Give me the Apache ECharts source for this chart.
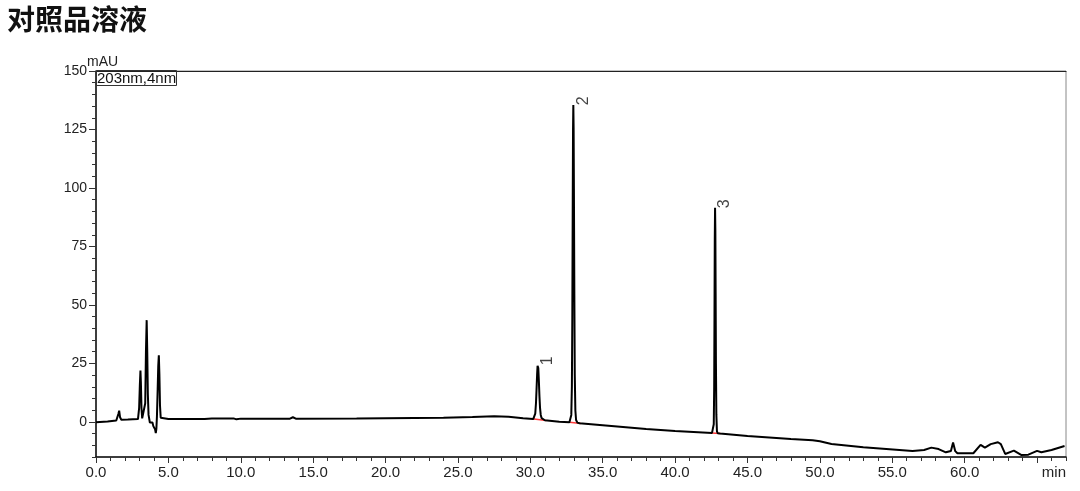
<!DOCTYPE html>
<html>
<head>
<meta charset="utf-8">
<script src="https://cdn.jsdelivr.net/npm/echarts@6/dist/echarts.min.js"></script>
<style>
html,body{margin:0;padding:0;background:#fff;}
#chart{width:1080px;height:491px;}
</style>
</head>
<body>
<div id="chart"></div>
<script>
// ---- data (time in min, absorbance in mAU) ----
const times = [
  0.0, 0.8, 1.4, 1.5, 1.55, 1.6, 1.66, 1.75, 2.2, 2.9, 2.98, 3.03, 3.07, 3.1, 3.14, 3.19, 3.25, 3.32,
  3.4, 3.45, 3.5, 3.54, 3.58, 3.63, 3.68, 3.72, 3.78, 3.84, 3.9, 3.96, 4.02, 4.08, 4.13, 4.17, 4.21,
  4.26, 4.3, 4.34, 4.38, 4.42, 4.47, 4.55, 5.0, 7.5, 8.0, 9.5, 9.7, 10.0, 13.4, 13.6, 13.8, 18.0,
  20.0, 24.0, 26.0, 27.5, 28.5, 29.5, 30.2,
  30.28, 30.34, 30.39, 30.43, 30.47, 30.5, 30.52, 30.55, 30.59, 30.63, 30.67, 30.72, 30.78, 30.86, 31.0,
  32.0, 32.7, 32.78, 32.83, 32.87, 32.9, 32.93, 32.95, 32.97, 32.99, 33.01, 33.04, 33.07, 33.11, 33.16, 33.25, 33.4,
  35.0, 38.0, 40.0, 42.55, 42.63, 42.67, 42.7, 42.72, 42.74, 42.76, 42.78, 42.8, 42.82, 42.85, 42.89, 42.95, 43.1,
  45.0, 48.0, 49.5, 50.0, 50.8, 53.0, 56.4, 57.2, 57.7, 58.2, 58.7, 59.05, 59.2, 59.35, 59.5, 60.6,
  61.1, 61.4, 61.8, 62.3, 62.5, 62.8, 63.4, 63.9, 64.4, 65.0, 65.3, 66.0, 66.9
];
const signal = [
  -0.1, 0.2, 0.6, 1.3, 3.5, 4.8, 2.0, 0.9, 1.0, 1.2, 6.0, 16.0, 22.0, 17.0, 6.0, 1.5, 0.8, 1.5,
  8.0, 30.0, 43.5, 30.0, 12.0, 3.0, 2.2, -0.3, 0.4, -0.8, -0.3, -1.8, -1.2, -3.2, -4.8, -3.0, 2.5,
  14.0, 24.0, 28.5, 20.0, 7.0, 1.8, 1.3, 1.2, 1.2, 1.5, 1.5, 1.1, 1.4, 1.4, 2.0, 1.4, 1.5,
  1.6, 1.8, 2.1, 2.4, 2.2, 1.6, 1.2,
  1.6, 3.5, 8.0, 14.0, 20.5, 24.0, 24.4, 23.0, 17.5, 11.0, 6.0, 3.0, 1.6, 1.0, 0.7,
  0.1, -0.1, 0.3, 3.0, 15.0, 45.0, 95.0, 125.0, 135.5, 126.0, 100.0, 55.0, 20.0, 5.0, 0.8, -0.3, -0.6,
  -1.4, -3.0, -3.9, -4.7, -4.4, -1.0, 15.0, 45.0, 78.0, 91.5, 82.0, 55.0, 25.0, 3.0, -4.0, -4.9, -5.0,
  -6.0, -7.3, -7.8, -8.3, -9.4, -10.8, -12.4, -12.0, -11.0, -11.6, -13.0, -12.4, -8.8, -12.5, -13.4, -13.4,
  -9.8, -11.0, -9.5, -8.7, -9.5, -13.7, -12.3, -14.1, -14.0, -12.4, -13.0, -12.0, -10.3
];
// integration baselines (red) under the peaks: start/end time and value
const baseStartT = [30.1, 32.7, 42.5];
const baseStartV = [1.3, -0.1, -4.7];
const baseEndT   = [31.1, 33.5, 43.15];
const baseEndV   = [0.6, -0.7, -5.0];
// peak labels
const peakTimes   = [30.52, 32.97, 42.76];
const peakHeights = [24.4, 135.5, 91.5];
const peakNames   = ['1', '2', '3'];
// axis ticks
const xLabelValues = [0, 5, 10, 15, 20, 25, 30, 35, 40, 45, 50, 55, 60];
const xMajorTicks  = [0, 5, 10, 15, 20, 25, 30, 35, 40, 45, 50, 55, 60, 65];
const yLabelValues = [0, 25, 50, 75, 100, 125, 150];

// ---- build ----
const lineData = times.map((t, i) => [t, signal[i]]);
const baseData = [];
baseStartT.forEach((t, i) => {
  baseData.push([t, baseStartV[i]], [baseEndT[i], baseEndV[i]], null);
});
const peakData = peakTimes.map((t, i) => ({ value: [t, peakHeights[i]], name: peakNames[i] }));

const FONT = 'Liberation Sans, Arial, sans-serif';
const chart = echarts.init(document.getElementById('chart'), null, { renderer: 'canvas' });
chart.setOption({
  animation: false,
  backgroundColor: '#fff',
  title: [
    { text: '对照品溶液', left: 7, top: 5, padding: 0,
      textStyle: { fontSize: 28, fontWeight: 'bold', color: '#111', fontFamily: 'Noto Sans CJK SC' } },
    { text: 'mAU', left: 87, top: 55, padding: 0,
      textStyle: { fontSize: 14, fontWeight: 'normal', color: '#222', fontFamily: FONT } },
    { text: '203nm,4nm', left: 96, top: 70, padding: [1, 1, 0, 1], borderWidth: 1, borderColor: '#333',
      textStyle: { fontSize: 15, lineHeight: 15, fontWeight: 'normal', color: '#111', fontFamily: FONT } }
  ],
  grid: { left: 96, right: 14, top: 71, bottom: 34, show: true, borderColor: '#888', borderWidth: 1 },
  xAxis: [
    { type: 'value', min: 0, max: 67, interval: 1, position: 'bottom',
      name: 'min', nameLocation: 'end', nameGap: 0,
      nameTextStyle: { fontSize: 15, color: '#222', fontFamily: FONT, align: 'right', verticalAlign: 'top', padding: [8, 0, 0, 0] },
      axisLine: { show: true, onZero: false, lineStyle: { color: '#111', width: 1.5 } },
      axisTick: { show: true, inside: false, length: 4, lineStyle: { color: '#333', width: 1 } },
      axisLabel: { show: true, customValues: xLabelValues, margin: 8, fontSize: 15, color: '#222', fontFamily: FONT,
        formatter: v => v.toFixed(1) },
      splitLine: { show: false } },
    { type: 'value', min: 0, max: 67, position: 'bottom',
      axisLine: { show: false, onZero: false },
      axisTick: { show: true, customValues: xMajorTicks, length: 6, lineStyle: { color: '#333', width: 1 } },
      axisLabel: { show: false }, splitLine: { show: false } },
    { type: 'value', min: 0, max: 67, position: 'top',
      axisLine: { show: true, onZero: false, lineStyle: { color: '#222', width: 1 } },
      axisTick: { show: false }, axisLabel: { show: false }, splitLine: { show: false } }
  ],
  yAxis: [
    { type: 'value', min: -15, max: 150, interval: 5, position: 'left',
      axisLine: { show: true, onZero: false, lineStyle: { color: '#111', width: 1.5 } },
      axisTick: { show: true, length: 4, lineStyle: { color: '#333', width: 1 } },
      axisLabel: { show: true, customValues: yLabelValues, margin: 9, fontSize: 14, color: '#222', fontFamily: FONT },
      splitLine: { show: false } },
    { type: 'value', min: -15, max: 150, position: 'left',
      axisLine: { show: false, onZero: false },
      axisTick: { show: true, customValues: yLabelValues, length: 7, lineStyle: { color: '#333', width: 1 } },
      axisLabel: { show: false }, splitLine: { show: false } }
  ],
  series: [
    { type: 'line', name: 'baseline', data: baseData, xAxisIndex: 0, yAxisIndex: 0,
      showSymbol: false, symbol: 'none', connectNulls: false, z: 1,
      lineStyle: { color: '#ff3b3b', width: 1.5 } },
    { type: 'line', name: '203nm,4nm', data: lineData, xAxisIndex: 0, yAxisIndex: 0,
      showSymbol: false, symbol: 'none', z: 2,
      lineStyle: { color: '#000', width: 2 } },
    { type: 'scatter', data: peakData, xAxisIndex: 0, yAxisIndex: 0, symbolSize: 0, z: 3,
      label: { show: true, formatter: p => p.name, position: [10, -4], rotate: 90,
        align: 'center', verticalAlign: 'middle', fontSize: 16, color: '#111', fontFamily: FONT } }
  ]
});
</script>
</body>
</html>
